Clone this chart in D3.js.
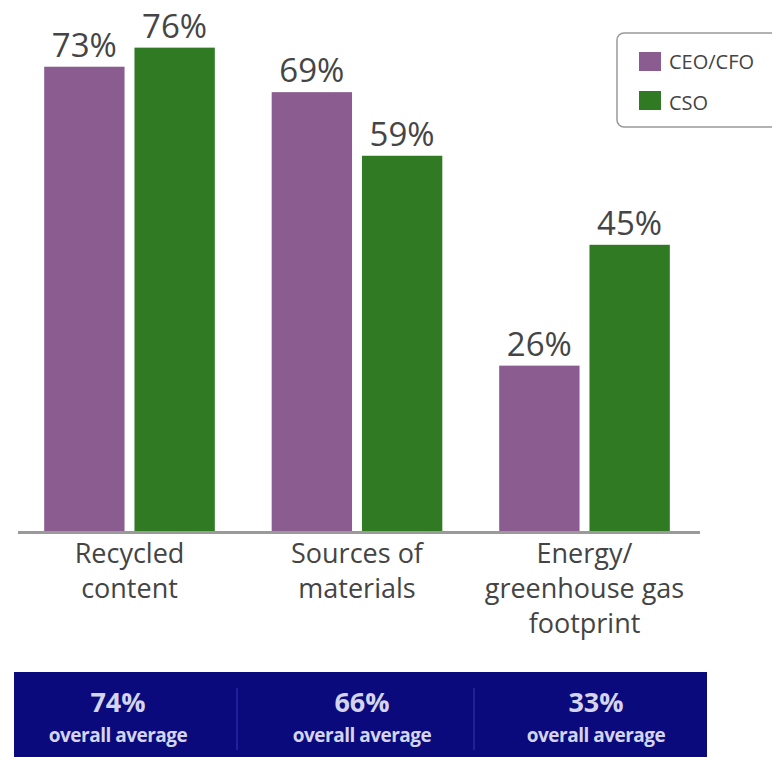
<!DOCTYPE html>
<html><head><meta charset="utf-8">
<script src="https://cdn.jsdelivr.net/npm/d3@7"></script>
<style>body{margin:0;background:#fff;}svg{display:block;}</style>
</head><body>
<svg id="chart" width="772" height="757"></svg>
<script>
const categories = [["Recycled","content"],["Sources of","materials"],["Energy/","greenhouse gas","footprint"]];
const categoryKeys = ["Recycled content","Sources of materials","Energy/greenhouse gas footprint"];
const seriesNames = ["CEO/CFO","CSO"];
const ceoValues = [73, 69, 26];
const csoValues = [76, 59, 45];
const averages = [74, 66, 33];
const averageLabel = "overall average";
const colors = ["#8a5c8f","#2f7a22"];

const svg = d3.select("#chart");
const font = "'Open Sans', 'Noto Sans', sans-serif";
const baseY = 531;
const y = d3.scaleLinear().domain([0,100]).range([baseY, baseY-636]);
const x0 = d3.scaleBand().domain(categoryKeys).range([15.75, 698.25]).paddingInner(0.25).paddingOuter(0.125);
const x1 = d3.scaleBand().domain(seriesNames).range([0, x0.bandwidth()]).paddingInner(0.11);
const color = d3.scaleOrdinal().domain(seriesNames).range(colors);

const rows = categoryKeys.map((k,i)=>({key:k, vals:[{s:seriesNames[0],v:ceoValues[i]},{s:seriesNames[1],v:csoValues[i]}]}));
const g = svg.append("g");
const grp = g.selectAll("g.grp").data(rows).join("g").attr("transform", d=>`translate(${x0(d.key)},0)`);
grp.selectAll("rect").data(d=>d.vals).join("rect")
  .attr("x", d=>x1(d.s)).attr("width", x1.bandwidth())
  .attr("y", d=>y(d.v)).attr("height", d=>baseY - y(d.v))
  .attr("fill", d=>color(d.s));
grp.selectAll("text.val").data(d=>d.vals).join("text")
  .attr("x", d=>x1(d.s)+x1.bandwidth()/2).attr("y", d=>y(d.v)-10)
  .attr("text-anchor","middle").attr("font-family",font).attr("font-size",33)
  .attr("fill","#454545").text(d=>d.v+"%");

// baseline
svg.append("line").attr("x1",18).attr("x2",700).attr("y1",baseY+1.5).attr("y2",baseY+1.5)
  .attr("stroke","#9a9a9a").attr("stroke-width",3);

// category labels
categories.forEach((lines,i)=>{
  const cx = x0(categoryKeys[i]) + x0.bandwidth()/2;
  lines.forEach((ln,j)=>{
    svg.append("text").attr("x",cx).attr("y",563+j*35).attr("text-anchor","middle")
      .attr("font-family",font).attr("font-size",27).attr("fill","#444").text(ln);
  });
});

// legend
svg.append("rect").attr("x",617).attr("y",33).attr("width",180).attr("height",94).attr("rx",7)
  .attr("fill","#fff").attr("stroke","#999").attr("stroke-width",1.5);
seriesNames.forEach((s,i)=>{
  svg.append("rect").attr("x",639).attr("y",52+i*39).attr("width",22).attr("height",19).attr("fill",color(s));
  svg.append("text").attr("x",669).attr("y",69+i*41).attr("font-family",font).attr("font-size",20)
    .attr("fill","#444").text(s);
});

// averages banner
svg.append("rect").attr("x",14).attr("y",672).attr("width",693).attr("height",90).attr("fill","#0a0a7c");
[237,474].forEach(xx=>svg.append("line").attr("x1",xx).attr("x2",xx).attr("y1",688).attr("y2",750)
  .attr("stroke","#2a2aa0").attr("stroke-width",1.5));
const avgCenters = [118, 362, 596];
averages.forEach((a,i)=>{
  svg.append("text").attr("x",avgCenters[i]).attr("y",712).attr("text-anchor","middle")
    .attr("font-family",font).attr("font-size",27).attr("font-weight","bold").attr("fill","#d4d4ee").text(a+"%");
  svg.append("text").attr("x",avgCenters[i]).attr("y",742).attr("text-anchor","middle")
    .attr("font-family",font).attr("font-size",19).attr("font-weight","bold").attr("fill","#d4d4ee")
    .attr("letter-spacing","-0.5").text(averageLabel);
});
</script>
</body></html>
